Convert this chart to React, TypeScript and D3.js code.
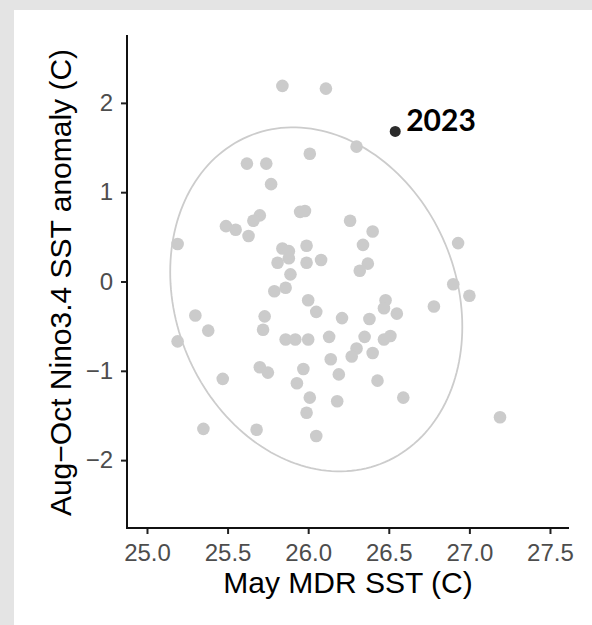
import React, { useEffect, useRef } from "react";
import * as d3 from "d3";

// May MDR SST (C) vs Aug-Oct Nino3.4 anomaly (C), one entry per year
const mdrSST = [
  25.84, 26.11, 26.3, 26.01, 25.62, 25.74, 25.77, 25.95, 25.98, 25.7,
  25.66, 26.26, 26.4, 25.49, 25.55, 25.63, 25.19, 26.34, 26.93, 25.99,
  25.84, 25.88, 25.88, 25.81, 25.99, 26.08, 26.37, 26.32, 25.89, 26.9,
  27.0, 25.79, 25.86, 26.0, 26.05, 26.78, 26.48, 26.47, 26.55, 25.3,
  25.73, 26.21, 26.38, 25.38, 25.72, 25.19, 25.86, 25.92, 26.0, 26.13,
  26.35, 26.47, 26.51, 26.3, 26.27, 26.4, 26.14, 25.7, 25.75, 25.97,
  26.19, 25.47, 25.93, 26.43, 26.01, 26.18, 26.59, 25.99, 27.19, 25.35,
  25.68, 26.05,
];
const nino34 = [
  2.19, 2.16, 1.51, 1.43, 1.32, 1.32, 1.09, 0.78, 0.79, 0.74,
  0.68, 0.68, 0.56, 0.62, 0.58, 0.51, 0.42, 0.41, 0.43, 0.4,
  0.37, 0.34, 0.26, 0.21, 0.21, 0.24, 0.2, 0.12, 0.08, -0.03,
  -0.16, -0.11, -0.07, -0.21, -0.34, -0.28, -0.21, -0.3, -0.36, -0.38,
  -0.39, -0.41, -0.42, -0.55, -0.54, -0.67, -0.65, -0.65, -0.65, -0.62,
  -0.62, -0.65, -0.61, -0.75, -0.84, -0.8, -0.87, -0.96, -1.02, -0.98,
  -1.04, -1.09, -1.14, -1.11, -1.3, -1.34, -1.3, -1.47, -1.52, -1.65,
  -1.66, -1.73,
];
const highlightLabel = "2023";
const highlightSST = 26.54;
const highlightNino = 1.68;

const xTicks = [25.0, 25.5, 26.0, 26.5, 27.0, 27.5];
const yTicks = [-2, -1, 0, 1, 2];
const xTitle = "May MDR SST (C)";
const yTitle = "Aug\u2212Oct Nino3.4 SST anomaly (C)";

// ellipse, in data units
const ellipseCenter = [26.05, -0.2];
const ellipseHalfX = 0.906;
const ellipseHalfY = 1.926;
const ellipseCorr = -0.159;

export default function App() {
  const ref = useRef<SVGSVGElement>(null);

  useEffect(() => {
    const W = 592;
    const H = 625;
    const left = 127, right = 569, top = 35, bottom = 528;
    const font = "'Liberation Sans', Arial, Helvetica, sans-serif";

    const svg = d3.select(ref.current);
    svg.selectAll("*").remove();

    svg.append("rect").attr("width", W).attr("height", H).attr("fill", "#e4e4e4");
    svg.append("rect").attr("x", 14).attr("y", 10).attr("width", W - 14).attr("height", H - 10).attr("fill", "#ffffff");

    const x = d3.scaleLinear().domain([24.876, 27.618]).range([left, right]);
    const y = d3.scaleLinear().domain([-2.76, 2.76]).range([bottom, top]);

    // ellipse
    const ts = d3.range(0, 2 * Math.PI, Math.PI / 90);
    const ell = ts.map(t => [
      ellipseCenter[0] + ellipseHalfX * Math.cos(t),
      ellipseCenter[1] + ellipseHalfY * (ellipseCorr * Math.cos(t) + Math.sqrt(1 - ellipseCorr * ellipseCorr) * Math.sin(t)),
    ]);
    const line = d3.line<number[]>()
      .x(d => x(d[0]))
      .y(d => y(d[1]))
      .curve(d3.curveLinearClosed);
    svg.append("path")
      .datum(ell)
      .attr("d", line)
      .attr("fill", "none")
      .attr("stroke", "#cccccc")
      .attr("stroke-width", 1.8);

    // points
    svg.append("g")
      .selectAll("circle")
      .data(mdrSST.map((v, i) => [v, nino34[i]]))
      .enter()
      .append("circle")
      .attr("cx", d => x(d[0]))
      .attr("cy", d => y(d[1]))
      .attr("r", 6.3)
      .attr("fill", "#cbcbcb");

    svg.append("circle")
      .attr("cx", x(highlightSST))
      .attr("cy", y(highlightNino))
      .attr("r", 5.5)
      .attr("fill", "#2b2b2b");
    svg.append("text")
      .attr("x", x(highlightSST) + 11)
      .attr("y", y(highlightNino))
      .attr("font-family", "Lato, 'Open Sans', sans-serif")
      .attr("font-weight", 700)
      .attr("font-size", 30)
      .attr("fill", "#000")
      .text(highlightLabel);

    // axes
    const xAxis = svg.append("g")
      .attr("transform", `translate(0,${bottom})`)
      .call(d3.axisBottom(x).tickValues(xTicks).tickFormat(d3.format(".1f")).tickSize(6).tickPadding(10));
    const yAxis = svg.append("g")
      .attr("transform", `translate(${left},0)`)
      .call(d3.axisLeft(y).tickValues(yTicks).tickFormat(d3.format("d")).tickSize(6).tickPadding(8));

    [xAxis, yAxis].forEach(g => {
      g.select(".domain").remove();
      g.selectAll(".tick line").attr("stroke", "#222").attr("stroke-width", 2);
      g.selectAll(".tick text")
        .attr("fill", "#4d4d4d")
        .attr("font-family", font)
        .attr("font-size", 24);
    });

    svg.append("path")
      .attr("d", `M${left},${top}V${bottom}H${right}`)
      .attr("fill", "none")
      .attr("stroke", "#111")
      .attr("stroke-width", 2);

    // axis titles
    svg.append("text")
      .attr("x", (left + right) / 2)
      .attr("y", 593)
      .attr("text-anchor", "middle")
      .attr("font-family", font)
      .attr("font-size", 30)
      .attr("fill", "#000")
      .text(xTitle);
    svg.append("text")
      .attr("transform", `translate(71,${(top + bottom) / 2 + 1}) rotate(-90)`)
      .attr("text-anchor", "middle")
      .attr("font-family", font)
      .attr("font-size", 30)
      .attr("fill", "#000")
      .text(yTitle);
  }, []);

  return (
    <svg
      ref={ref}
      width={592}
      height={625}
      style={{ position: "absolute", left: 0, top: 0, display: "block" }}
    />
  );
}
